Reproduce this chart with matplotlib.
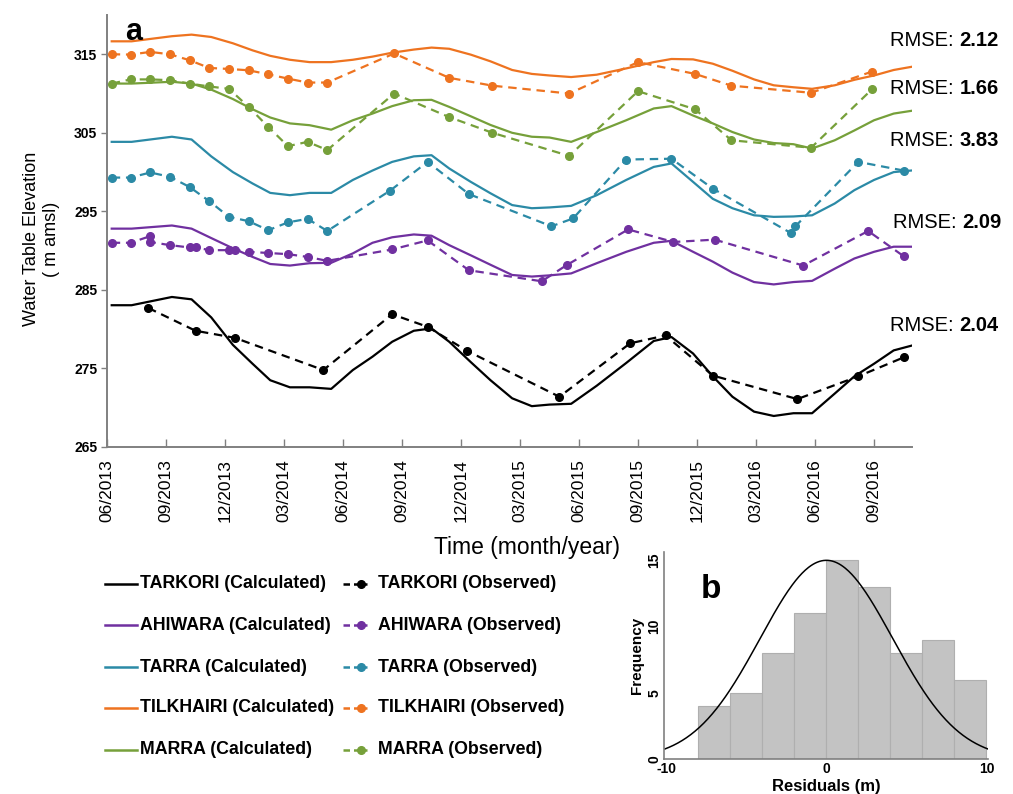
import numpy as np
import matplotlib
matplotlib.use("Agg")
import matplotlib.pyplot as plt
from matplotlib.lines import Line2D

plt.rcParams['font.family'] = ['Liberation Sans', 'DejaVu Sans']
plt.rcParams['axes.unicode_minus'] = False

# months counted from 06/2013
tick_months = list(range(0, 40, 3))
tick_labels = ['06/2013', '09/2013', '12/2013', '03/2014', '06/2014', '09/2014', '12/2014',
               '03/2015', '06/2015', '09/2015', '12/2015', '03/2016', '06/2016', '09/2016']

calc_months = [0.24, 1.25, 3.3, 4.3, 5.3, 6.4, 7.4, 8.3, 9.3, 10.3, 11.4, 12.5, 13.5, 14.5,
               15.6, 16.5, 17.4, 18.5, 19.5, 20.6, 21.6, 22.5, 23.6, 24.9, 26.4, 27.8, 28.7,
               29.8, 30.8, 31.8, 32.9, 33.9, 34.9, 35.85, 37.0, 38.0, 39.0, 40.0, 40.9]

tarkori_calc = [283.05, 283.05, 284.1, 283.8, 281.5, 278.0, 275.6, 273.5, 272.6, 272.6, 272.4,
                274.8, 276.5, 278.4, 279.8, 280.1, 278.4, 275.8, 273.5, 271.2, 270.2, 270.4,
                270.5, 272.8, 275.7, 278.5, 279.0, 276.9, 274.0, 271.4, 269.5, 268.95, 269.3,
                269.3, 271.8, 274.0, 275.6, 277.3, 277.9]
ahiwara_calc = [292.8, 292.8, 293.2, 292.8, 291.6, 290.3, 289.2, 288.3, 288.1, 288.4, 288.45,
                289.65, 291.0, 291.7, 292.06, 291.9, 290.7, 289.4, 288.2, 286.9, 286.7, 286.85,
                287.1, 288.4, 289.85, 291.0, 291.25, 289.85, 288.6, 287.2, 286.0, 285.7, 286.0,
                286.15, 287.7, 289.0, 289.85, 290.5, 290.5]
tarra_calc = [303.85, 303.85, 304.5, 304.15, 302.0, 300.0, 298.55, 297.35, 297.06, 297.35, 297.35,
              299.0, 300.2, 301.3, 302.0, 302.15, 300.46, 298.75, 297.3, 295.8, 295.4, 295.5,
              295.7, 297.06, 299.0, 300.66, 301.1, 298.75, 296.6, 295.4, 294.5, 294.3, 294.35,
              294.5, 296.0, 297.7, 299.0, 300.0, 300.2]
tilkhairi_calc = [316.65, 316.65, 317.3, 317.5, 317.2, 316.4, 315.5, 314.8, 314.3, 314.0, 314.0,
                  314.3, 314.7, 315.2, 315.6, 315.85, 315.7, 314.95, 314.1, 313.0, 312.5, 312.3,
                  312.1, 312.4, 313.2, 314.0, 314.4, 314.35, 313.8, 312.9, 311.8, 311.05, 310.8,
                  310.6, 311.05, 311.75, 312.3, 313.0, 313.4]
marra_calc = [311.27, 311.27, 311.5, 311.27, 310.5, 309.3, 308.0, 306.95, 306.2, 305.97, 305.4,
              306.6, 307.45, 308.4, 309.15, 309.2, 308.3, 307.1, 306.0, 305.0, 304.5, 304.4,
              303.85, 305.1, 306.6, 308.1, 308.4, 307.2, 306.2, 305.1, 304.15, 303.7, 303.55,
              303.0, 304.05, 305.3, 306.6, 307.45, 307.8]

tarkori_obs_m = [2.1, 4.5, 6.5, 11.0, 14.5, 16.3, 18.3, 23.0, 26.6, 28.4, 30.8, 35.1, 38.2, 40.5]
tarkori_obs = [282.7, 279.8, 278.9, 274.8, 281.9, 280.3, 277.25, 271.4, 278.2, 279.2, 274.1,
               271.1, 274.0, 276.4]
ahiwara_obs_m = [0.24, 1.2, 2.2, 2.2, 3.2, 4.2, 4.55, 5.2, 6.2, 6.5, 7.2, 8.2, 9.2, 10.2, 11.2,
                 14.5, 16.3, 18.4, 22.1, 23.4, 26.5, 28.8, 30.9, 35.4, 38.7, 40.5]
ahiwara_obs = [291.0, 291.0, 291.85, 291.1, 290.7, 290.4, 290.4, 290.06, 290.06, 290.1, 289.85,
               289.7, 289.55, 289.2, 288.7, 290.15, 291.3, 287.5, 286.1, 288.2, 292.7, 291.1,
               291.4, 288.1, 292.5, 289.3]
tarra_obs_m = [0.24, 1.2, 2.2, 3.2, 4.2, 5.2, 6.2, 7.2, 8.2, 9.2, 10.2, 11.2, 14.4, 16.3, 18.4,
               22.6, 23.7, 26.4, 28.7, 30.8, 34.8, 35.0, 38.2, 40.5]
tarra_obs = [299.3, 299.3, 299.95, 299.4, 298.1, 296.3, 294.3, 293.75, 292.6, 293.6, 294.05,
             292.5, 297.65, 301.3, 297.2, 293.1, 294.1, 301.6, 301.7, 297.9, 292.2, 293.1,
             301.3, 300.2]
tilkhairi_obs_m = [0.24, 1.2, 2.2, 3.2, 4.2, 5.2, 6.2, 7.2, 8.2, 9.2, 10.2, 11.2, 14.6, 17.4,
                   19.6, 23.5, 27.0, 29.9, 31.75, 35.8, 38.9]
tilkhairi_obs = [315.0, 314.96, 315.3, 315.0, 314.24, 313.26, 313.13, 312.96, 312.45, 311.9,
                 311.4, 311.4, 315.1, 312.0, 311.0, 310.0, 314.0, 312.5, 311.0, 310.1, 312.8]
marra_obs_m = [0.24, 1.2, 2.2, 3.2, 4.2, 5.2, 6.2, 7.2, 8.2, 9.2, 10.2, 11.2, 14.6, 17.4, 19.6,
               23.5, 27.0, 29.9, 31.75, 35.8, 38.9]
marra_obs = [311.27, 311.8, 311.8, 311.7, 311.27, 310.9, 310.6, 308.3, 305.75, 303.3, 303.85,
             302.8, 310.0, 307.0, 305.0, 302.06, 310.3, 308.0, 304.05, 303.1, 310.55]

stations = ['TARKORI', 'AHIWARA', 'TARRA', 'TILKHAIRI', 'MARRA']
colors = ['#000000', '#7030A0', '#2B8AA6', '#EE7320', '#76A03A']
calc_vals = [tarkori_calc, ahiwara_calc, tarra_calc, tilkhairi_calc, marra_calc]
obs_months = [tarkori_obs_m, ahiwara_obs_m, tarra_obs_m, tilkhairi_obs_m, marra_obs_m]
obs_vals = [tarkori_obs, ahiwara_obs, tarra_obs, tilkhairi_obs, marra_obs]

rmse_labels = ['2.12', '1.66', '3.83', '2.09', '2.04']
rmse_pos = [(890, 40), (890, 89), (890, 140), (893, 222), (890, 325)]

# residual histogram
bin_edges = [-8, -6, -4, -2, 0, 2, 4, 6, 8, 10]
bin_counts = [4, 5, 8, 11, 15, 13, 8, 9, 6]
fit_mean, fit_sd, fit_peak = 0.0, 4.15, 15.0

W, H = 1013, 794
fig = plt.figure(figsize=(W / 100, H / 100), dpi=100)
spine_col = '#808080'
dash = (0, (3.8, 2.6))

ax = fig.add_axes([107 / W, 1 - 447 / H, (912 - 107) / W, (447 - 15) / H])
for col, cv, om, ov in zip(colors, calc_vals, obs_months, obs_vals):
    ax.plot(calc_months, cv, color=col, lw=1.6)
    ax.plot(om, ov, color=col, lw=1.6, ls=dash, marker='o', ms=5.5)
ax.set_xlim(0, 40.93)
ax.set_ylim(265, 320)
ax.set_yticks([265, 275, 285, 295, 305, 315])
ax.set_xticks(tick_months)
ax.set_xticklabels(tick_labels, rotation=90, fontsize=12.5)
for lab in ax.get_yticklabels():
    lab.set_fontweight('bold')
    lab.set_fontsize(10)
ax.tick_params(axis='y', direction='out', length=4, color=spine_col, width=1, pad=3)
ax.tick_params(axis='x', direction='in', length=6, color=spine_col, width=1, pad=9)
for s in ['top', 'right']:
    ax.spines[s].set_visible(False)
for s in ['left', 'bottom']:
    ax.spines[s].set_color(spine_col)
    ax.spines[s].set_linewidth(1.4)
ax.set_ylabel('Water Table Elevation\n( m amsl)', fontsize=13)
ax.yaxis.set_label_coords(-(107 - 60) / 805, (447 - 239) / 432)
ax.set_xlabel('Time (month/year)', fontsize=16.5)
ax.xaxis.set_label_coords((527 - 107) / 805, -(536 - 447) / 432)
ax.text(0.022, 0.995, 'a', transform=ax.transAxes, fontsize=22, fontweight='bold',
        va='top', ha='left')

fig.canvas.draw()
for lab, (px, py) in zip(rmse_labels, rmse_pos):
    t = fig.text(px / W, 1 - py / H, 'RMSE: ', fontsize=14.5, va='center', ha='left')
    bb = t.get_window_extent(renderer=fig.canvas.get_renderer())
    fig.text(bb.x1 / W, 1 - py / H, lab, fontsize=14.5, fontweight='bold', va='center', ha='left')

# legend, drawn row by row
leg_font = dict(fontsize=12.8, fontweight='bold', va='center', ha='left')
leg_rows = [584, 625, 667, 708, 750]
for name, col, ry in zip(stations, colors, leg_rows):
    yf = 1 - ry / H
    fig.add_artist(Line2D([105 / W, 137 / W], [yf, yf], color=col, lw=1.8,
                          transform=fig.transFigure))
    fig.text(140 / W, yf, name + ' (Calculated)', **leg_font)
    fig.add_artist(Line2D([343 / W, 367 / W], [yf, yf], color=col, lw=1.8, ls=(0, (2.6, 1.6)),
                          transform=fig.transFigure))
    fig.add_artist(Line2D([361 / W], [yf], color=col, marker='o', ms=5.5, lw=0,
                          transform=fig.transFigure))
    fig.text(378 / W, yf, name + ' (Observed)', **leg_font)

# histogram panel
axh = fig.add_axes([664 / W, 1 - 759.3 / H, (988 - 664) / W, (759.3 - 551.7) / H])
edges = np.array(bin_edges, dtype=float)
axh.bar(edges[:-1], bin_counts, width=np.diff(edges), align='edge', color='#C3C3C3',
        edgecolor='#AFAFAF', linewidth=0.8)
xs = np.linspace(-10.1, 10.1, 300)
axh.plot(xs, fit_peak * np.exp(-0.5 * ((xs - fit_mean) / fit_sd) ** 2), color='black', lw=1.1)
axh.set_xlim(-10.15, 10.1)
axh.set_ylim(0, 15.65)
axh.set_xticks([-10, 0, 10])
axh.set_yticks([0, 5, 10, 15])
axh.tick_params(length=0, labelsize=10, pad=2)
for lab in axh.get_xticklabels():
    lab.set_fontweight('bold')
for lab in axh.get_yticklabels():
    lab.set_fontweight('bold')
    lab.set_rotation(90)
    lab.set_va('center')
for s in ['top', 'right']:
    axh.spines[s].set_visible(False)
for s in ['left', 'bottom']:
    axh.spines[s].set_color(spine_col)
    axh.spines[s].set_linewidth(1.2)
axh.set_xlabel('Residuals (m)', fontsize=12, fontweight='bold', labelpad=2)
axh.set_ylabel('Frequency', fontsize=11, fontweight='bold', labelpad=2)
axh.text(0.145, 0.82, 'b', transform=axh.transAxes, fontsize=24, fontweight='bold',
         va='center', ha='center')

fig.savefig('out.png', dpi=100)
